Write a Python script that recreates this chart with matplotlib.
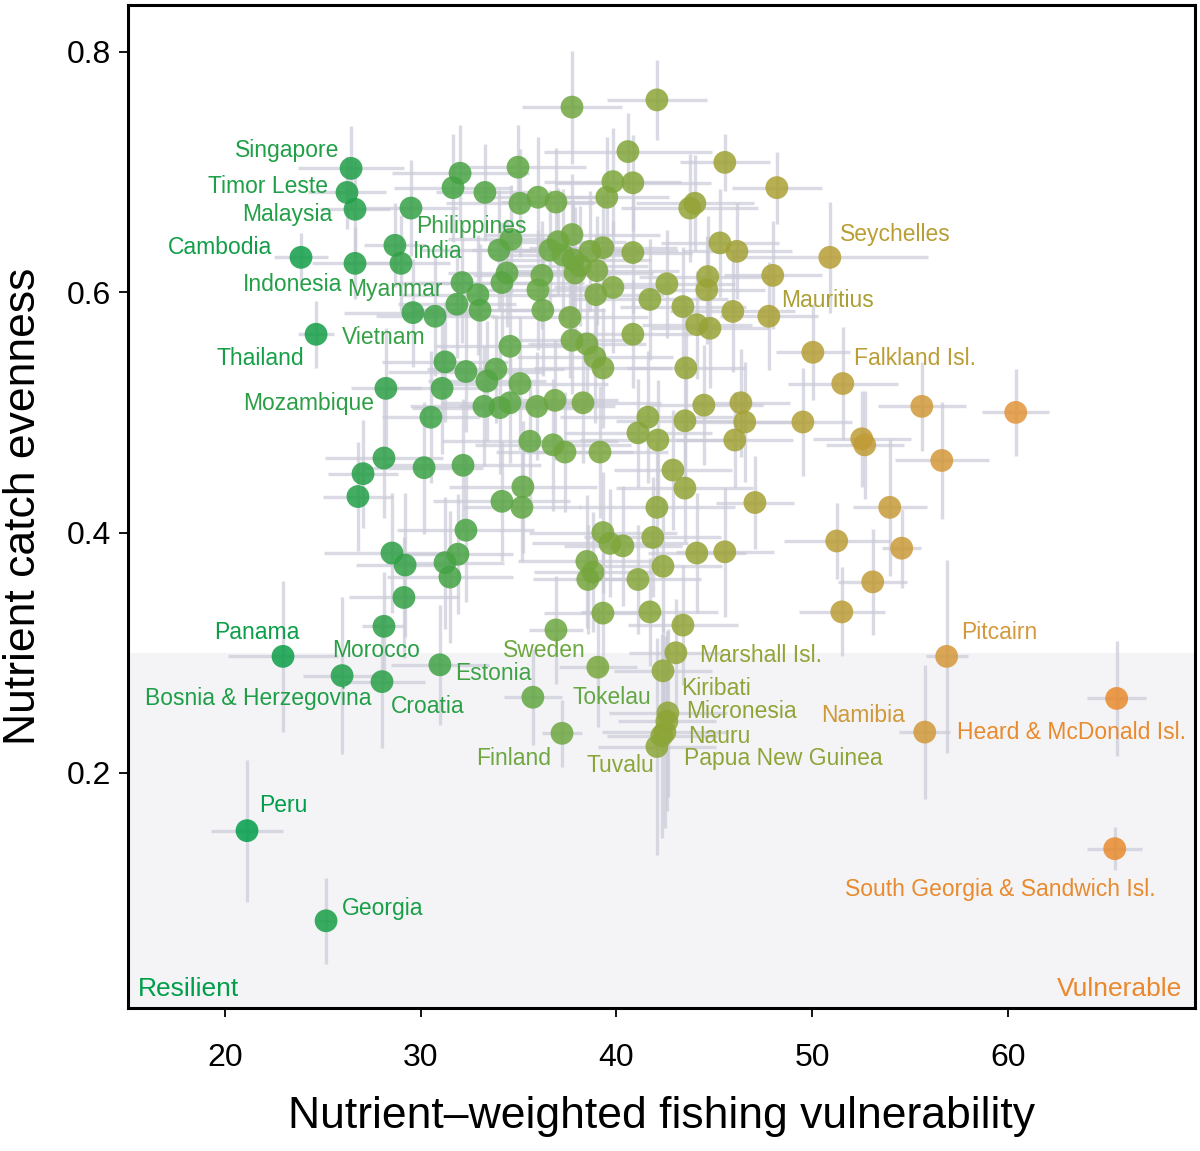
import matplotlib
matplotlib.use("Agg")
import matplotlib.pyplot as plt
from matplotlib.colors import LinearSegmentedColormap, Normalize
import numpy as np

plt.rcParams['font.family'] = ['Liberation Sans', 'DejaVu Sans']

# ---------------- data ----------------
vuln = [26.44, 26.23, 26.64, 23.88, 26.64, 28.68, 28.99, 29.50, 24.65, 28.22,
        30.52, 29.60, 30.73, 28.12, 27.05, 26.79, 30.17, 28.53, 29.20, 29.14,
        28.12, 22.96, 25.98, 28.02, 30.98, 21.12, 25.16, 31.24, 31.09, 32.01,
        31.65, 33.28, 34.97, 35.07, 35.99, 36.91, 34.00, 34.61, 32.11, 31.85,
        32.92, 33.03, 34.15, 34.41, 34.56, 32.31, 33.84, 33.38, 35.07, 33.23,
        34.05, 34.56, 35.94, 36.86, 32.16, 32.31, 31.24, 31.90, 31.49, 35.58,
        36.76, 37.37, 35.22, 34.15, 35.17, 36.60, 37.01, 37.73, 37.27, 37.78,
        36.19, 35.99, 36.24, 36.91, 35.73, 37.22, 39.05, 37.73, 42.07, 40.59,
        39.82, 40.84, 39.51, 38.65, 39.31, 40.84, 37.88, 38.14, 39.00, 38.95,
        39.82, 37.62, 37.73, 38.49, 38.90, 39.31, 40.84, 41.71, 42.58, 43.40,
        43.55, 38.29, 41.61, 43.50, 41.10, 42.12, 39.16, 42.89, 43.50, 42.07,
        39.31, 39.67, 40.33, 38.49, 38.80, 38.54, 41.86, 42.38, 41.10, 39.31,
        41.71, 43.40, 43.04, 42.38, 42.63, 42.58, 42.48, 42.32, 42.07, 44.11,
        43.75, 44.01, 45.54, 48.20, 45.29, 46.16, 47.99, 44.67, 44.62, 45.95,
        47.79, 44.78, 44.11, 44.47, 46.36, 46.56, 46.05, 47.08, 45.54, 50.91,
        50.04, 51.57, 55.61, 60.41, 49.53, 52.54, 52.69, 56.63, 53.97, 51.26,
        54.58, 53.10, 51.52, 56.88, 55.76, 65.57, 65.47]

evenness = [0.703, 0.683, 0.669, 0.629, 0.624, 0.639, 0.624, 0.670, 0.565, 0.520,
            0.496, 0.583, 0.580, 0.462, 0.449, 0.430, 0.454, 0.383, 0.373, 0.346,
            0.322, 0.297, 0.281, 0.276, 0.290, 0.152, 0.077, 0.542, 0.520, 0.699,
            0.687, 0.683, 0.704, 0.674, 0.679, 0.675, 0.635, 0.644, 0.608, 0.590,
            0.598, 0.585, 0.608, 0.616, 0.555, 0.534, 0.536, 0.526, 0.524, 0.505,
            0.504, 0.508, 0.505, 0.510, 0.456, 0.402, 0.375, 0.382, 0.363, 0.476,
            0.473, 0.467, 0.438, 0.426, 0.421, 0.635, 0.642, 0.648, 0.631, 0.627,
            0.614, 0.602, 0.585, 0.319, 0.263, 0.233, 0.288, 0.754, 0.760, 0.717,
            0.692, 0.691, 0.679, 0.634, 0.637, 0.633, 0.616, 0.622, 0.618, 0.598,
            0.604, 0.579, 0.560, 0.557, 0.546, 0.537, 0.565, 0.594, 0.607, 0.588,
            0.537, 0.508, 0.496, 0.493, 0.483, 0.477, 0.467, 0.452, 0.437, 0.421,
            0.400, 0.391, 0.389, 0.376, 0.367, 0.361, 0.396, 0.372, 0.361, 0.333,
            0.334, 0.323, 0.300, 0.285, 0.250, 0.243, 0.234, 0.231, 0.222, 0.383,
            0.670, 0.674, 0.708, 0.687, 0.641, 0.634, 0.614, 0.613, 0.602, 0.584,
            0.580, 0.570, 0.573, 0.506, 0.508, 0.492, 0.477, 0.425, 0.384, 0.629,
            0.550, 0.524, 0.505, 0.500, 0.492, 0.478, 0.473, 0.460, 0.421, 0.393,
            0.387, 0.359, 0.334, 0.297, 0.234, 0.262, 0.137]

vuln_err = [2.7, 2.0, 1.8, 1.4, 2.2, 1.6, 2.5, 2.4, 0.9, 1.8,
            2.5, 3.5, 3.0, 3.0, 1.8, 1.8, 3.0, 3.5, 2.5, 2.8,
            1.1, 2.8, 2.0, 2.2, 2.5, 1.84, 0.5, 3.2, 2.8, 3.5,
            3.0, 2.5, 3.5, 3.8, 3.0, 2.8, 4.0, 3.2, 3.5, 3.0,
            4.0, 3.5, 4.2, 3.0, 3.8, 4.0, 3.5, 3.0, 4.5, 3.8,
            4.5, 3.5, 4.0, 3.2, 4.0, 3.5, 3.0, 2.8, 3.2, 4.5,
            4.0, 3.5, 3.8, 3.5, 3.0, 4.0, 3.5, 4.5, 3.8, 4.0,
            3.5, 3.0, 3.2, 1.4, 1.5, 1.0, 2.0, 2.55, 2.55, 4.3,
            3.5, 4.0, 3.2, 4.5, 3.8, 3.0, 4.0, 3.5, 4.2, 3.5,
            3.0, 4.0, 3.5, 3.0, 4.0, 3.5, 3.0, 4.0, 3.5, 3.2,
            3.0, 4.0, 4.5, 3.5, 3.8, 4.0, 3.5, 3.0, 3.5, 4.0,
            3.8, 4.0, 3.0, 3.5, 3.0, 2.8, 3.5, 3.0, 3.2, 3.0,
            3.5, 2.8, 2.4, 2.5, 3.0, 2.5, 3.2, 2.8, 3.0, 2.5,
            3.5, 3.0, 2.3, 2.3, 3.0, 2.8, 2.5, 3.5, 3.0, 3.2,
            2.5, 3.0, 2.8, 3.0, 2.5, 2.8, 3.0, 2.0, 2.5, 5.0,
            1.9, 2.8, 2.25, 1.7, 2.5, 2.5, 2.0, 2.4, 1.9, 2.7,
            1.0, 1.75, 2.2, 1.07, 1.3, 1.5, 1.4]

even_err = [0.035, 0.030, 0.040, 0.020, 0.030, 0.035, 0.040, 0.040, 0.028, 0.050,
            0.055, 0.045, 0.050, 0.050, 0.045, 0.045, 0.055, 0.050, 0.060, 0.050,
            0.045, 0.063, 0.065, 0.055, 0.050, 0.059, 0.036, 0.050, 0.055, 0.040,
            0.045, 0.040, 0.035, 0.045, 0.050, 0.045, 0.050, 0.045, 0.050, 0.045,
            0.050, 0.055, 0.050, 0.045, 0.055, 0.050, 0.045, 0.050, 0.055, 0.050,
            0.055, 0.050, 0.045, 0.050, 0.055, 0.060, 0.055, 0.050, 0.055, 0.050,
            0.055, 0.050, 0.055, 0.050, 0.045, 0.050, 0.045, 0.050, 0.055, 0.050,
            0.045, 0.050, 0.055, 0.045, 0.040, 0.028, 0.050, 0.047, 0.033, 0.032,
            0.045, 0.040, 0.050, 0.050, 0.045, 0.050, 0.055, 0.050, 0.045, 0.050,
            0.055, 0.050, 0.045, 0.050, 0.055, 0.050, 0.045, 0.050, 0.045, 0.050,
            0.055, 0.050, 0.055, 0.050, 0.045, 0.050, 0.055, 0.050, 0.045, 0.055,
            0.050, 0.045, 0.050, 0.055, 0.050, 0.045, 0.050, 0.055, 0.045, 0.050,
            0.045, 0.050, 0.045, 0.050, 0.070, 0.075, 0.080, 0.085, 0.090, 0.050,
            0.045, 0.040, 0.024, 0.030, 0.045, 0.040, 0.045, 0.050, 0.045, 0.050,
            0.045, 0.050, 0.045, 0.050, 0.045, 0.050, 0.040, 0.039, 0.054, 0.046,
            0.040, 0.047, 0.037, 0.036, 0.045, 0.040, 0.045, 0.049, 0.057, 0.032,
            0.033, 0.044, 0.037, 0.080, 0.056, 0.048, 0.018]

# index of labelled countries in the arrays above
country_index = {
    "Singapore": 0, "Timor Leste": 1, "Malaysia": 2, "Cambodia": 3,
    "Indonesia": 4, "India": 5, "Myanmar": 6, "Philippines": 7,
    "Thailand": 8, "Mozambique": 9, "Vietnam": 11, "Morocco": 20,
    "Panama": 21, "Bosnia & Herzegovina": 22, "Croatia": 23, "Estonia": 24,
    "Peru": 25, "Georgia": 26, "Sweden": 73, "Tokelau": 74, "Finland": 75,
    "Marshall Isl.": 122, "Kiribati": 123, "Micronesia": 124, "Nauru": 126,
    "Papua New Guinea": 127, "Tuvalu": 128, "Mauritius": 140,
    "Seychelles": 149, "Falkland Isl.": 151, "Pitcairn": 163,
    "Namibia": 164, "Heard & McDonald Isl.": 165,
    "South Georgia & Sandwich Isl.": 166,
}

# label text centres (data coordinates)
label_pos = {
    "Singapore": (23.17, 0.718), "Timor Leste": (22.20, 0.688),
    "Malaysia": (23.17, 0.665), "Cambodia": (19.74, 0.637),
    "Indonesia": (23.47, 0.606), "Myanmar": (28.68, 0.602),
    "Philippines": (32.57, 0.655), "India": (30.88, 0.634),
    "Vietnam": (28.12, 0.562), "Thailand": (21.79, 0.545),
    "Mozambique": (24.29, 0.507), "Panama": (21.63, 0.317),
    "Morocco": (27.71, 0.302), "Bosnia & Herzegovina": (21.69, 0.262),
    "Croatia": (30.37, 0.255), "Estonia": (33.69, 0.283),
    "Sweden": (36.30, 0.302), "Tokelau": (39.77, 0.263),
    "Finland": (34.76, 0.212), "Tuvalu": (40.18, 0.206),
    "Kiribati": (45.08, 0.270), "Micronesia": (46.41, 0.251),
    "Nauru": (45.24, 0.230), "Papua New Guinea": (48.51, 0.212),
    "Marshall Isl.": (47.38, 0.298), "Namibia": (52.59, 0.248),
    "Heard & McDonald Isl.": (63.27, 0.234),
    "South Georgia & Sandwich Isl.": (59.64, 0.103),
    "Pitcairn": (59.59, 0.317), "Seychelles": (54.28, 0.648),
    "Mauritius": (50.80, 0.593), "Falkland Isl.": (55.25, 0.545),
    "Peru": (22.96, 0.173), "Georgia": (28.07, 0.087),
}

x_ticks = [20, 30, 40, 50, 60]
y_ticks = [0.2, 0.4, 0.6, 0.8]

# ---------------- styling ----------------
cmap = LinearSegmentedColormap.from_list("resil", [
    (0.0, '#009E49'), (0.156, '#2A9F46'), (0.333, '#66A742'),
    (0.467, '#8BA537'), (0.6, '#ABA034'), (0.689, '#BD9D36'),
    (0.789, '#D3983A'), (0.889, '#E4943A'), (1.0, '#E9892C')])
norm = Normalize(vmin=21, vmax=66)

fig = plt.figure(figsize=(12, 11.51), dpi=100)
ax = fig.add_axes([0.1067, 0.1242, 0.8891, 0.8715])

ax.set_xlim(15.04, 69.57)
ax.set_ylim(0.0044, 0.839)

ax.axhspan(0, 0.3, color='#F4F4F7', zorder=0, lw=0)

ax.errorbar(vuln, evenness, xerr=vuln_err, yerr=even_err, fmt='none',
            ecolor='#CBCBD9', elinewidth=2.4, alpha=0.7, capsize=0, zorder=1)

cols = cmap(norm(np.array(vuln)))
ax.scatter(vuln, evenness, s=270, c=cols, alpha=0.85, linewidths=0, zorder=3)

for name, (tx, ty) in label_pos.items():
    px = vuln[country_index[name]]
    ax.text(tx, ty, name, ha='center', va='center', fontsize=16.5,
            color=cmap(norm(px)), zorder=4)

ax.text(15.56, 0.020, "Resilient", ha='left', va='center', fontsize=19,
        color=cmap(0.0), zorder=4)
ax.text(68.89, 0.020, "Vulnerable", ha='right', va='center', fontsize=19,
        color=cmap(1.0), zorder=4)

ax.set_xticks(x_ticks)
ax.set_yticks(y_ticks)
ax.set_xticklabels([str(t) for t in x_ticks])
ax.set_yticklabels([f"{t:.1f}" for t in y_ticks])
ax.tick_params(axis='both', direction='out', length=6.5, width=1.3,
               labelsize=23, color='black')
ax.tick_params(axis='x', pad=19)
ax.tick_params(axis='y', pad=6)
for sp in ax.spines.values():
    sp.set_linewidth(2.2)
    sp.set_color('black')

ax.set_xlabel("Nutrient\u2013weighted fishing vulnerability", fontsize=32,
              labelpad=16)
ax.set_ylabel("Nutrient catch evenness", fontsize=32, labelpad=16)

fig.savefig("out.png", dpi=100)
